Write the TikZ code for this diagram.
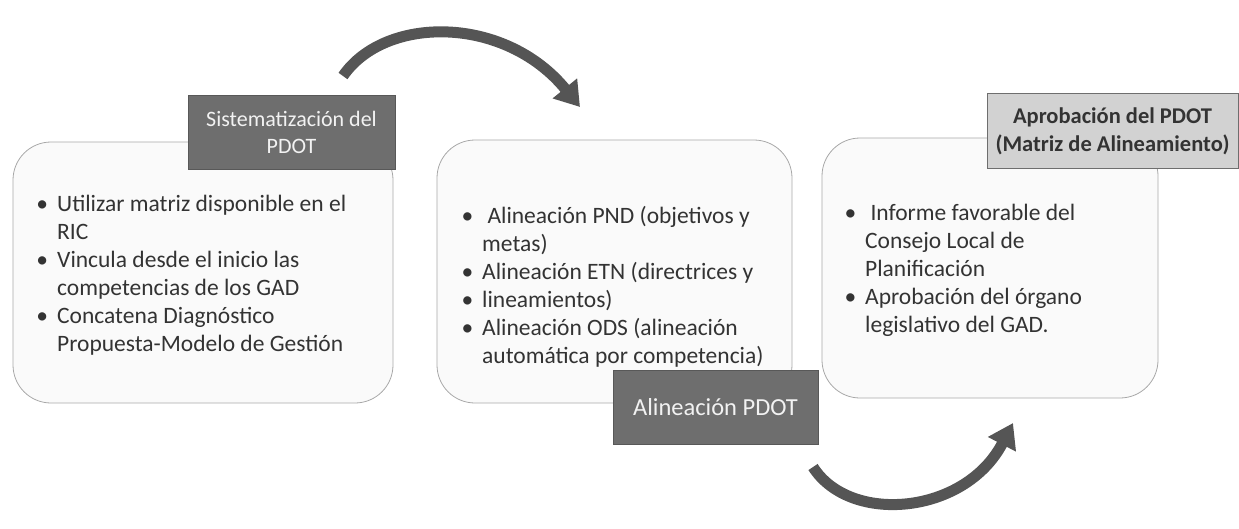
\documentclass[tikz,border=0pt]{standalone}
\usepackage{fontspec}
\setmainfont{Carlito}
\usetikzlibrary{arrows.meta}
\definecolor{boxborder}{HTML}{A8A8A8}
\definecolor{boxfill}{HTML}{FAFAFA}
\definecolor{txt}{HTML}{333333}
\definecolor{darklab}{HTML}{6E6E6E}
\definecolor{lightlab}{HTML}{D2D2D2}
\definecolor{arrowc}{HTML}{555555}
\tikzset{
  card/.style={draw=boxborder, fill=boxfill, line width=0.8pt, rounded corners=38pt},
  darklabel/.style={draw=darklab!80!black, fill=darklab, text=white!90!gray, align=center,
     inner sep=0pt, font=\fontsize{22}{27}\selectfont},
  lightlabel/.style={draw=darklab, fill=lightlab, text=txt, align=center,
     inner sep=0pt, font=\bfseries\fontsize{22.5}{28}\selectfont},
  bullets/.style={anchor=north west, align=left, inner sep=0pt, text=txt,
     font=\fontsize{23.5}{28}\selectfont},
  bigarrow/.style={draw=arrowc, line width=11pt, -{Triangle[width=30pt,length=24pt]}}
}
\newcommand{\bul}{\llap{\textbullet\hspace{9pt}}}
\begin{document}
\begin{tikzpicture}[x=1pt,y=-1pt]
\useasboundingbox (0,0) rectangle (1239,528);
% cards
\draw[card] (13,142) rectangle (393,403);
\draw[card] (437,140) rectangle (792,403);
\draw[card] (822,138) rectangle (1158,398);
% bullet texts
\node[bullets] (t1) at (57,195) {\bul Utilizar matriz disponible en el\\RIC\\\bul Vincula desde el inicio las\\competencias de los GAD\\\bul Concatena Diagnóstico\\Propuesta-Modelo de Gestión};
\node[bullets] (t2) at (482,206) {\bul\ Alineación PND (objetivos y\\metas)\\\bul Alineación ETN (directrices y\\\bul lineamientos)\\\bul Alineación ODS (alineación\\automática por competencia)};
\node[bullets] (t3) at (865,204) {\bul\ Informe favorable del\\Consejo Local de\\Planificación\\\bul Aprobación del órgano\\legislativo del GAD.};
% labels
\node[darklabel, minimum width=207pt, minimum height=74pt] (l1) at (291.5,132) {Sistematización del\\PDOT};
\node[darklabel, minimum width=205pt, minimum height=74pt, font=\fontsize{24.5}{28}\selectfont] (l2) at (715.5,407) {Alineación PDOT};
\node[lightlabel, minimum width=251pt, minimum height=75pt] (l3) at (1112.5,131) {Aprobación del PDOT\\(Matriz de Alineamiento)};
% arrows
\coordinate (a1s) at (343,76);
\coordinate (a1e) at (580,107);
\coordinate (a2s) at (813,467);
\coordinate (a2e) at (1013,423);
\draw[bigarrow] (a1s) .. controls (385,15) and (505,15) .. (a1e);
\draw[bigarrow] (a2s) .. controls (850,525) and (965,515) .. (a2e);
\end{tikzpicture}
\end{document}
